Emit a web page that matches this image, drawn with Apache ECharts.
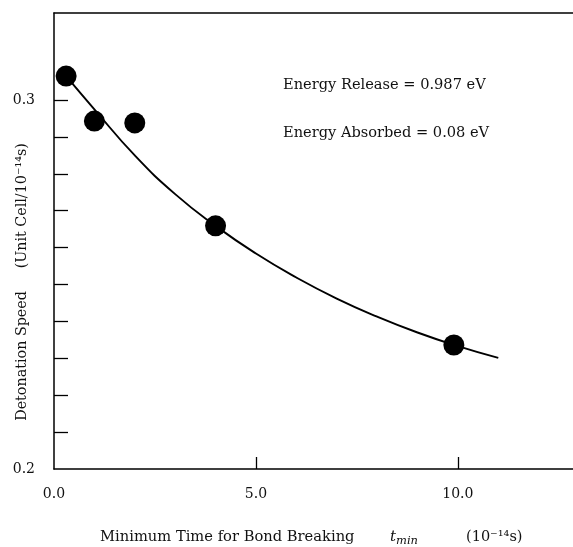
<!DOCTYPE html>
<html>
<head>
<meta charset="utf-8">
<script src="https://cdn.jsdelivr.net/npm/echarts@6/dist/echarts.min.js"></script>
<style>
html,body{margin:0;padding:0;background:#fff;}
#chart{width:573px;height:547px;}
</style>
</head>
<body>
<div id="chart"></div>
<script>
// Data
const pointX = [0.3, 1.0, 2.0, 4.0, 9.9];
const pointY = [0.3065, 0.2943, 0.2938, 0.2659, 0.2336];
const curveX = [0.3, 1, 2, 3, 4, 5, 6, 7, 8, 9, 10, 11];
const curveY = [0.3065, 0.2975, 0.2850, 0.2745, 0.2659, 0.2584, 0.2519, 0.2462, 0.2413, 0.2370, 0.2333, 0.2301];
const xTickValues = [5, 10];
const xLabelValues = [0, 5, 10];
const yTickValues = [0.21, 0.22, 0.23, 0.24, 0.25, 0.26, 0.27, 0.28, 0.29, 0.30];
const yLabelValues = [0.2, 0.3];
const annotations = ['Energy Release = 0.987 eV', 'Energy Absorbed = 0.08 eV'];

const FONT = '"DejaVu Serif", "Liberation Serif", serif';
const chart = echarts.init(document.getElementById('chart'));

const option = {
  animation: false,
  backgroundColor: '#fff',
  grid: { left: 54, top: 13, right: 0, bottom: 78, containLabel: false },
  xAxis: [{
    type: 'value', min: 0, max: 12.85,
    axisLine: { lineStyle: { color: '#000', width: 1.5 } },
    axisTick: { inside: true, length: 12, customValues: xTickValues, lineStyle: { color: '#000', width: 1.3 } },
    axisLabel: { customValues: xLabelValues, margin: 18, color: '#111', fontFamily: FONT, fontSize: 14,
      formatter: v => v.toFixed(1) },
    splitLine: { show: false }
  }, {
    type: 'value', min: 0, max: 12.85, position: 'top',
    axisLine: { show: true, onZero: false, lineStyle: { color: '#000', width: 1.5 } },
    axisTick: { show: false }, axisLabel: { show: false }, splitLine: { show: false }
  }],
  yAxis: {
    type: 'value', min: 0.2, max: 0.3236,
    axisLine: { lineStyle: { color: '#000', width: 1.5 } },
    axisTick: { inside: true, length: 14, customValues: yTickValues, lineStyle: { color: '#000', width: 1.3 } },
    axisLabel: { customValues: yLabelValues, margin: 19, color: '#111', fontFamily: FONT, fontSize: 14,
      padding: [0, 0, 10, 0], formatter: v => v.toFixed(1) },
    splitLine: { show: false }
  },
  series: [{
    type: 'line', data: curveX.map((x, i) => [x, curveY[i]]), smooth: true,
    showSymbol: false, lineStyle: { color: '#000', width: 1.9 }, z: 2
  }, {
    type: 'scatter', data: pointX.map((x, i) => [x, pointY[i]]), symbolSize: 21,
    itemStyle: { color: '#000', opacity: 1 }, z: 3
  }],
  graphic: [
    { type: 'text', left: 283, top: 78, style: { text: annotations[0], font: '14.6px ' + FONT, fill: '#111' } },
    { type: 'text', left: 283, top: 126, style: { text: annotations[1], font: '14.6px ' + FONT, fill: '#111' } },
    { type: 'text', x: 22, y: 282, rotation: Math.PI / 2,
      style: { text: 'Detonation Speed     (Unit Cell/10⁻¹⁴s)', font: '14.3px ' + FONT, fill: '#111',
        align: 'center', verticalAlign: 'middle' } },
    { type: 'text', left: 100, top: 530, style: { text: 'Minimum Time for Bond Breaking', font: '14.7px ' + FONT, fill: '#111' } },
    { type: 'text', left: 390, top: 530,
      style: { text: '{t|t}{s|min}', font: '14px ' + FONT, fill: '#111',
        rich: { t: { fontFamily: FONT, fontStyle: 'italic', fontSize: 15 },
                s: { fontFamily: FONT, fontStyle: 'italic', fontSize: 11.5, padding: [8, 0, 0, 0] } } } },
    { type: 'text', left: 466, top: 530, style: { text: '(10⁻¹⁴s)', font: '14.5px ' + FONT, fill: '#111' } }
  ]
};
chart.setOption(option);
</script>
</body>
</html>
